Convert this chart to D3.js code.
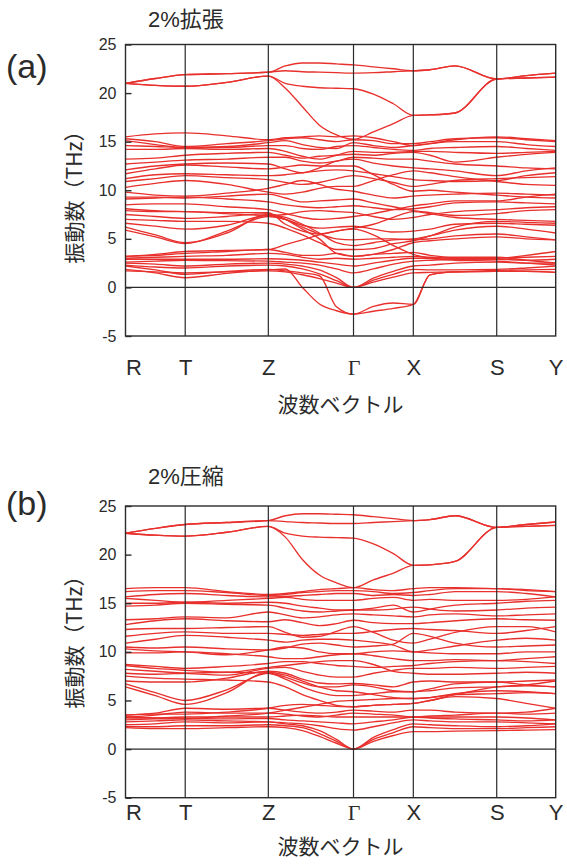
<!DOCTYPE html>
<html>
<head>
<meta charset="utf-8">
<script src="https://cdn.jsdelivr.net/npm/d3@7"></script>
<style>
  body { margin: 0; background: #fff; }
  svg { display: block; }
</style>
</head>
<body>
<svg id="fig" width="567" height="867"></svg>
<script>
// Path through the Brillouin zone: R - T - Z - Γ - X - S - Y
const kTickPos    = [0, 0.1388, 0.332, 0.530, 0.669, 0.8629, 1.0];
const kTickLabels = ["R", "T", "Z", "Γ", "X", "S", "Y"];

// Wave-vector sample points for every band:
// R, R-T, T, T-Z, Z, Z-Γ (1/5..4/5), Γ, Γ-X (1/3, 2/3), X, X-S (1/5, 1/2), S, S-Y, Y
const kNodes = [0, 0.0694, 0.1388, 0.2354, 0.332,
                0.3716, 0.4112, 0.4508, 0.4904, 0.530,
                0.5763, 0.6227, 0.669, 0.7078, 0.766, 0.8629, 0.9315, 1.0];

const freqTicks = [-5, 0, 5, 10, 15, 20, 25];

// Phonon frequencies (THz), 2% tensile strain
const expansionBands = [
  [21.0, 21.5, 21.9, 22.0, 22.15, 22.8, 23.1, 23.1, 23.0, 22.9, 22.7, 22.5, 22.3, 22.4, 22.8, 21.45, 21.8, 22.05],
  [21.0, 21.5, 21.9, 22.0, 22.15, 22.3, 22.2, 22.15, 22.1, 22.05, 22.1, 22.2, 22.3, 22.4, 22.8, 21.45, 21.8, 22.05],
  [21.0, 20.8, 20.7, 21.1, 21.75, 21.0, 20.7, 20.55, 20.5, 20.45, 19.9, 18.9, 17.7, 17.75, 17.95, 21.45, 21.55, 21.65],
  [21.0, 20.8, 20.7, 21.1, 21.75, 20.5, 18.6, 16.7, 15.7, 15.25, 16.0, 16.85, 17.7, 17.75, 17.95, 21.45, 21.55, 21.65],
  [15.5, 15.8, 15.9, 15.6, 15.2, 15.4, 15.5, 15.6, 15.5, 15.6, 15.4, 15.0, 14.6, 14.8, 15.2, 15.5, 15.3, 15.1],
  [15.3, 15.0, 14.5, 14.8, 15.1, 15.3, 15.4, 15.2, 15.0, 15.2, 15.1, 14.8, 14.8, 15.0, 15.3, 15.4, 15.2, 15.0],
  [15.1, 14.7, 14.4, 14.5, 14.9, 15.1, 14.7, 14.4, 14.3, 14.9, 14.6, 14.4, 14.6, 14.8, 15.0, 15.0, 14.7, 14.5],
  [14.6, 14.5, 14.4, 14.4, 14.6, 14.6, 14.3, 14.2, 14.5, 14.6, 14.4, 14.2, 14.1, 14.3, 14.4, 14.5, 14.3, 14.1],
  [14.2, 14.2, 14.3, 14.2, 14.3, 14.0, 13.5, 13.2, 13.6, 14.0, 13.9, 13.9, 14.0, 14.0, 13.9, 13.8, 13.9, 14.0],
  [13.2, 13.3, 13.6, 13.8, 13.9, 13.6, 13.3, 13.5, 13.6, 13.7, 13.6, 13.8, 13.9, 13.6, 12.9, 13.4, 13.7, 13.9],
  [12.7, 12.9, 13.1, 13.2, 13.4, 13.4, 13.0, 12.8, 13.0, 13.4, 13.3, 13.2, 13.2, 13.0, 12.7, 12.5, 12.3, 12.2],
  [12.1, 12.5, 12.7, 12.8, 12.7, 12.2, 11.8, 12.3, 13.0, 13.2, 12.8, 12.5, 12.3, 12.2, 12.0, 11.5, 12.0, 12.3],
  [11.7, 12.2, 12.6, 12.4, 12.2, 12.4, 12.6, 12.5, 12.5, 12.5, 11.6, 10.6, 9.9, 10.0, 9.8, 9.5, 9.3, 9.2],
  [11.2, 11.6, 11.7, 11.6, 11.5, 11.6, 11.8, 12.0, 12.1, 12.0, 11.7, 11.4, 11.1, 11.0, 10.9, 11.0, 11.5, 11.8],
  [10.9, 11.2, 11.5, 11.3, 11.1, 10.8, 10.6, 10.8, 11.2, 11.5, 11.2, 10.8, 10.4, 10.6, 11.0, 11.2, 11.3, 11.4],
  [10.3, 10.7, 11.0, 10.6, 9.8, 9.6, 9.8, 10.2, 10.4, 10.4, 11.0, 11.6, 12.0, 11.8, 11.4, 10.9, 10.6, 10.5],
  [9.8, 9.5, 9.4, 9.7, 10.2, 10.6, 11.0, 10.6, 10.1, 9.9, 9.5, 9.2, 9.4, 9.5, 9.6, 9.7, 9.6, 9.5],
  [9.3, 9.3, 9.2, 9.4, 9.6, 9.2, 8.8, 8.9, 9.0, 9.1, 8.7, 8.3, 7.9, 7.7, 7.4, 7.6, 7.9, 8.0],
  [9.1, 9.2, 9.3, 9.1, 8.8, 8.5, 8.3, 8.2, 8.3, 8.4, 8.2, 8.0, 8.1, 8.3, 8.7, 8.8, 8.7, 8.6],
  [8.5, 8.6, 8.6, 8.3, 8.0, 7.6, 7.2, 7.0, 7.1, 7.3, 7.6, 8.0, 8.4, 8.6, 8.9, 8.9, 9.3, 9.6],
  [8.1, 7.9, 7.8, 7.7, 7.7, 6.5, 5.8, 5.5, 5.8, 6.1, 6.5, 7.2, 7.8, 7.6, 7.2, 7.0, 6.9, 6.8],
  [7.9, 7.8, 7.8, 7.6, 7.4, 7.5, 7.8, 7.9, 7.8, 7.7, 7.3, 7.0, 7.2, 7.5, 7.8, 8.0, 8.2, 8.3],
  [7.5, 7.3, 7.1, 7.3, 7.6, 7.0, 6.0, 5.0, 3.5, 3.2, 3.4, 3.9, 4.6, 4.8, 5.0, 5.2, 5.0, 4.9],
  [7.0, 6.9, 6.8, 6.8, 6.6, 6.1, 5.4, 4.6, 3.9, 3.9, 4.0, 4.5, 4.8, 5.3, 6.2, 6.8, 6.7, 6.6],
  [6.6, 6.3, 6.0, 6.4, 7.4, 7.0, 6.4, 6.1, 6.2, 6.3, 6.0, 5.7, 5.8, 6.0, 6.5, 6.6, 6.5, 6.4],
  [6.2, 5.4, 4.6, 5.6, 7.5, 7.2, 6.5, 5.6, 4.6, 4.3, 4.6, 4.9, 5.0, 5.3, 5.9, 6.3, 6.0, 5.6],
  [5.9, 5.2, 4.5, 5.8, 7.3, 7.0, 6.2, 5.5, 5.0, 4.9, 5.0, 5.0, 4.9, 5.0, 5.3, 5.5, 5.2, 4.9],
  [3.2, 3.4, 3.7, 3.8, 3.9, 4.4, 4.9, 5.4, 5.8, 6.0, 5.4, 4.3, 3.4, 3.0, 2.8, 2.7, 2.5, 2.3],
  [3.2, 3.3, 3.5, 3.7, 3.9, 3.6, 3.3, 3.3, 3.5, 3.2, 3.4, 3.5, 3.6, 3.3, 3.1, 3.1, 2.8, 2.5],
  [3.0, 3.1, 3.2, 3.3, 3.5, 3.4, 3.1, 2.9, 3.0, 2.9, 3.0, 3.1, 3.2, 3.1, 3.0, 3.0, 3.3, 3.7],
  [2.9, 2.9, 2.9, 2.9, 2.95, 2.9, 2.8, 2.6, 2.4, 2.2, 2.5, 2.8, 3.0, 3.0, 3.05, 3.05, 3.1, 3.2],
  [2.6, 2.7, 2.8, 2.75, 2.7, 2.6, 2.5, 2.3, 1.9, 1.5, 1.9, 2.4, 2.7, 2.8, 2.9, 2.9, 2.8, 2.9],
  [2.5, 2.4, 2.2, 2.4, 2.5, 2.4, 2.2, 1.8, 1.0, 0, 0.95, 1.65, 2.2, 2.3, 2.5, 2.6, 2.5, 2.5],
  [2.3, 2.1, 2.0, 2.2, 2.3, 2.2, 1.9, 1.4, 0.7, 0, 0.75, 1.35, 1.85, 1.8, 1.8, 1.85, 2.0, 2.2],
  [1.7, 1.6, 1.5, 1.6, 1.7, 1.6, 1.3, 0.9, 0.45, 0, 0.55, 1.05, 1.5, 1.55, 1.6, 1.75, 1.8, 1.85],
  [2.2, 1.8, 1.35, 1.65, 1.85, 1.7, 1.5, 1.2, -2.0, -2.75, -1.95, -1.6, -1.75, 1.3, 1.6, 1.65, 1.65, 1.55],
  [1.85, 1.5, 1.0, 1.45, 1.8, 1.9, 0.0, -1.7, -2.4, -2.75, -2.45, -2.15, -1.75, 1.3, 1.6, 1.65, 1.65, 1.55]
];

// Phonon frequencies (THz), 2% compressive strain
const compressionBands = [
  [22.2, 22.7, 23.1, 23.3, 23.5, 24.0, 24.2, 24.2, 24.15, 24.1, 23.9, 23.7, 23.5, 23.6, 24.0, 22.8, 23.1, 23.35],
  [22.2, 22.7, 23.1, 23.3, 23.5, 23.4, 23.3, 23.25, 23.2, 23.2, 23.3, 23.4, 23.5, 23.6, 24.0, 22.8, 23.1, 23.35],
  [22.2, 22.0, 21.9, 22.3, 22.9, 22.2, 21.9, 21.8, 21.75, 21.7, 21.1, 20.1, 18.9, 18.95, 19.3, 22.8, 22.9, 23.0],
  [22.2, 22.0, 21.9, 22.3, 22.9, 21.8, 19.5, 17.9, 17.1, 16.6, 17.4, 18.1, 18.9, 18.95, 19.3, 22.8, 22.9, 23.0],
  [16.5, 16.6, 16.6, 16.2, 15.9, 16.0, 16.2, 16.4, 16.5, 16.6, 16.4, 16.3, 16.5, 16.6, 16.6, 16.5, 16.4, 16.2],
  [16.2, 16.3, 16.3, 16.1, 15.8, 15.9, 16.1, 16.2, 16.3, 16.3, 16.2, 16.0, 16.1, 16.3, 16.5, 16.5, 16.3, 16.2],
  [15.65, 15.9, 16.0, 15.8, 15.65, 15.7, 15.8, 15.9, 16.0, 16.0, 15.8, 15.9, 15.8, 15.9, 16.2, 16.2, 16.0, 15.65],
  [15.5, 15.3, 15.1, 15.3, 15.5, 15.6, 15.4, 15.3, 15.3, 15.3, 15.5, 15.6, 15.3, 15.4, 15.3, 15.3, 15.4, 15.65],
  [15.0, 15.0, 15.1, 15.0, 15.1, 15.0, 14.7, 14.5, 14.3, 14.3, 14.5, 14.8, 14.1, 14.4, 14.8, 15.0, 15.2, 15.3],
  [14.7, 14.8, 15.0, 14.9, 14.8, 14.5, 14.2, 14.1, 14.2, 14.3, 14.3, 14.4, 14.6, 14.4, 14.2, 14.3, 14.5, 14.6],
  [13.3, 13.4, 13.6, 13.5, 14.1, 13.8, 13.5, 13.6, 13.8, 13.9, 13.8, 13.7, 13.6, 13.8, 13.9, 13.7, 13.8, 13.9],
  [12.8, 13.2, 13.4, 13.2, 13.1, 13.3, 13.0, 12.7, 12.9, 13.25, 13.0, 12.9, 12.9, 13.0, 13.2, 13.4, 13.3, 13.25],
  [12.3, 12.4, 12.4, 12.5, 12.6, 12.0, 11.5, 11.6, 12.1, 12.6, 12.0, 11.2, 10.9, 11.3, 12.0, 12.6, 12.6, 12.05],
  [11.6, 11.9, 12.05, 11.9, 11.9, 11.8, 11.7, 11.8, 11.9, 11.9, 12.1, 12.3, 12.4, 12.3, 12.2, 11.9, 12.2, 12.6],
  [10.9, 11.3, 11.7, 11.5, 11.2, 11.0, 11.2, 11.3, 11.3, 11.2, 11.0, 10.7, 10.0, 10.2, 10.6, 11.2, 11.4, 11.2],
  [10.5, 10.4, 10.5, 10.3, 10.2, 10.4, 10.8, 10.9, 10.7, 10.5, 10.6, 10.8, 11.9, 11.6, 10.9, 10.5, 10.6, 10.7],
  [10.3, 10.1, 10.0, 9.7, 10.2, 10.5, 10.4, 10.0, 9.8, 9.8, 10.0, 10.1, 10.0, 9.9, 9.8, 9.8, 10.0, 10.0],
  [9.9, 9.9, 10.0, 9.8, 9.5, 9.3, 9.3, 9.5, 9.7, 9.8, 9.6, 9.3, 9.1, 9.1, 9.2, 9.1, 9.3, 9.5],
  [8.7, 8.5, 8.3, 8.5, 8.8, 9.0, 9.0, 8.8, 8.6, 8.5, 8.4, 8.5, 8.6, 8.8, 9.0, 9.1, 9.0, 8.8],
  [8.6, 8.3, 8.1, 7.9, 8.4, 8.6, 8.8, 9.0, 9.1, 9.1, 8.7, 8.0, 7.8, 7.7, 7.7, 7.8, 7.9, 7.8],
  [8.2, 8.0, 7.8, 7.6, 8.3, 8.4, 8.0, 7.6, 7.4, 7.4, 7.8, 8.1, 8.3, 8.3, 8.4, 8.3, 8.4, 8.5],
  [7.8, 7.7, 7.8, 7.9, 7.8, 7.4, 6.8, 6.4, 6.4, 6.6, 6.4, 6.0, 5.9, 6.0, 6.3, 6.4, 6.5, 6.4],
  [7.5, 7.3, 7.2, 7.1, 6.9, 6.4, 5.6, 5.0, 4.5, 4.35, 4.5, 4.6, 4.7, 5.0, 5.6, 6.4, 6.6, 7.0],
  [7.0, 6.9, 6.9, 7.3, 8.0, 7.8, 7.2, 6.8, 6.7, 6.75, 6.6, 6.4, 6.9, 7.0, 6.9, 6.9, 7.0, 7.1],
  [6.7, 5.8, 5.0, 6.1, 7.8, 7.2, 6.4, 5.8, 5.5, 5.5, 5.7, 5.9, 5.9, 6.2, 6.7, 6.9, 6.6, 6.4],
  [6.4, 5.5, 4.6, 5.8, 7.9, 7.6, 7.0, 6.4, 6.0, 5.9, 5.6, 5.3, 5.2, 5.3, 5.6, 5.7, 5.8, 5.7],
  [3.3, 3.2, 3.15, 3.4, 3.7, 4.0, 4.3, 4.6, 4.9, 5.0, 5.1, 5.2, 5.2, 5.3, 5.7, 6.0, 5.9, 5.7],
  [3.5, 3.6, 3.6, 3.8, 4.2, 4.5, 4.6, 4.5, 4.4, 4.35, 4.5, 4.6, 4.7, 5.0, 5.4, 5.2, 4.7, 4.2],
  [3.5, 3.7, 4.2, 4.1, 4.2, 4.0, 3.8, 3.7, 3.8, 4.0, 3.9, 3.8, 4.0, 4.0, 3.8, 3.7, 3.8, 4.2],
  [3.3, 3.5, 3.8, 3.7, 3.7, 3.6, 3.4, 3.3, 3.5, 3.7, 3.6, 3.5, 3.3, 3.4, 3.5, 3.7, 3.6, 3.7],
  [3.2, 3.2, 3.3, 3.3, 3.3, 3.4, 3.5, 3.4, 3.3, 3.3, 3.3, 3.3, 3.3, 3.3, 3.3, 3.3, 3.2, 3.0],
  [3.0, 3.1, 3.15, 3.1, 3.15, 3.0, 2.9, 2.8, 2.7, 2.6, 2.8, 3.0, 3.3, 3.2, 3.1, 3.0, 2.9, 3.0],
  [2.8, 2.9, 3.0, 2.9, 2.8, 2.7, 2.6, 2.4, 2.1, 1.95, 2.3, 2.7, 3.0, 2.9, 2.8, 2.8, 2.7, 2.6],
  [2.5, 2.6, 2.8, 2.7, 2.8, 2.6, 2.4, 1.9, 1.0, 0, 1.2, 2.0, 2.6, 2.5, 2.4, 2.3, 2.4, 2.6],
  [2.3, 2.3, 2.4, 2.4, 2.5, 2.4, 2.2, 1.6, 0.8, 0, 1.0, 1.7, 2.3, 2.2, 2.1, 2.1, 2.2, 2.3],
  [2.2, 2.1, 2.1, 2.2, 2.3, 2.2, 1.9, 1.3, 0.6, 0, 0.8, 1.4, 1.8, 1.8, 1.85, 1.9, 1.95, 2.0]
];

const svg = d3.select("#fig");
const ink = "#2b2b2b";
const bandColor = "#e8302d";
const latin = "'Liberation Sans', Arial, sans-serif";
const cjk = "'Liberation Sans', 'Noto Sans CJK JP', sans-serif";

const x = d3.scaleLinear().domain([0, 1]).range([125.5, 555.7]);

const panels = [
  { id: "a", tag: "(a)", title: "2%拡張", bands: expansionBands,
    top: 44.5, bottom: 336, tagY: 78, titleY: 27, kPad: 23, xTitleY: 412, yTitleY: 192 },
  { id: "b", tag: "(b)", title: "2%圧縮", bands: compressionBands,
    top: 506, bottom: 797.7, tagY: 515, titleY: 484, kPad: 7, xTitleY: 854, yTitleY: 637 }
];

panels.forEach(p => {
  const y = d3.scaleLinear().domain([-5, 25]).range([p.bottom, p.top]);
  const g = svg.append("g").attr("class", "panel-" + p.id);

  g.append("clipPath").attr("id", "clip-" + p.id)
    .append("rect")
    .attr("x", x(0)).attr("y", y(25))
    .attr("width", x(1) - x(0)).attr("height", y(-5) - y(25));

  // phonon branches
  const line = d3.line()
    .x((d, i) => x(kNodes[i]))
    .y(d => y(d))
    .curve(d3.curveMonotoneX);

  g.append("g").attr("clip-path", `url(#clip-${p.id})`)
    .selectAll("path")
    .data(p.bands)
    .join("path")
    .attr("d", line)
    .attr("fill", "none")
    .attr("stroke", bandColor)
    .attr("stroke-width", 1.35)
    .attr("stroke-linejoin", "round");

  // high-symmetry verticals
  g.append("g").selectAll("line")
    .data(kTickPos.slice(1, -1))
    .join("line")
    .attr("x1", d => x(d)).attr("x2", d => x(d))
    .attr("y1", y(25)).attr("y2", y(-5))
    .attr("stroke", ink).attr("stroke-width", 1.2);

  // zero-frequency line
  g.append("line")
    .attr("x1", x(0)).attr("x2", x(1))
    .attr("y1", y(0)).attr("y2", y(0))
    .attr("stroke", ink).attr("stroke-width", 1.2);

  // frame
  g.append("rect")
    .attr("x", x(0)).attr("y", y(25))
    .attr("width", x(1) - x(0)).attr("height", y(-5) - y(25))
    .attr("fill", "none").attr("stroke", ink).attr("stroke-width", 1.4);

  // frequency axis
  const yAxis = g.append("g")
    .attr("transform", `translate(${x(0)},0)`)
    .call(d3.axisLeft(y).tickValues(freqTicks).tickSize(-6).tickPadding(9)
      .tickFormat(d => String(d)));
  yAxis.select(".domain").remove();
  yAxis.selectAll(".tick line").attr("stroke", ink).attr("stroke-width", 1.4);
  yAxis.selectAll(".tick text")
    .attr("fill", ink).style("font-family", latin).style("font-size", "16px");

  // wave-vector axis labels
  const xAxis = g.append("g")
    .attr("transform", `translate(0,${y(-5)})`)
    .call(d3.axisBottom(x).tickValues(kTickPos).tickSize(0).tickPadding(p.kPad)
      .tickFormat((d, i) => kTickLabels[i]));
  xAxis.select(".domain").remove();
  xAxis.selectAll(".tick text")
    .attr("fill", ink)
    .attr("text-anchor", (d, i) => i === 0 ? "start" : "middle")
    .style("font-family", (d, i) => kTickLabels[i] === "Γ" ? "'Liberation Serif', serif" : latin)
    .style("font-size", "22px");

  // axis titles
  g.append("text")
    .attr("x", (x(0) + x(1)) / 2).attr("y", p.xTitleY)
    .attr("text-anchor", "middle").attr("fill", ink)
    .style("font-family", "'Noto Sans CJK JP', sans-serif").style("font-size", "21px")
    .text("波数ベクトル");

  g.append("text")
    .attr("transform", `translate(82,${p.yTitleY}) rotate(-90)`)
    .attr("text-anchor", "middle").attr("fill", ink)
    .style("font-family", "'Noto Sans CJK JP', sans-serif").style("font-size", "21px")
    .text("振動数（THz）");

  // panel tag and title
  g.append("text")
    .attr("x", 6).attr("y", p.tagY).attr("fill", ink)
    .style("font-family", latin).style("font-size", "34px")
    .text(p.tag);

  g.append("text")
    .attr("x", 148).attr("y", p.titleY).attr("fill", ink)
    .style("font-family", cjk).style("font-size", "22px")
    .text(p.title);
});
</script>
</body>
</html>
